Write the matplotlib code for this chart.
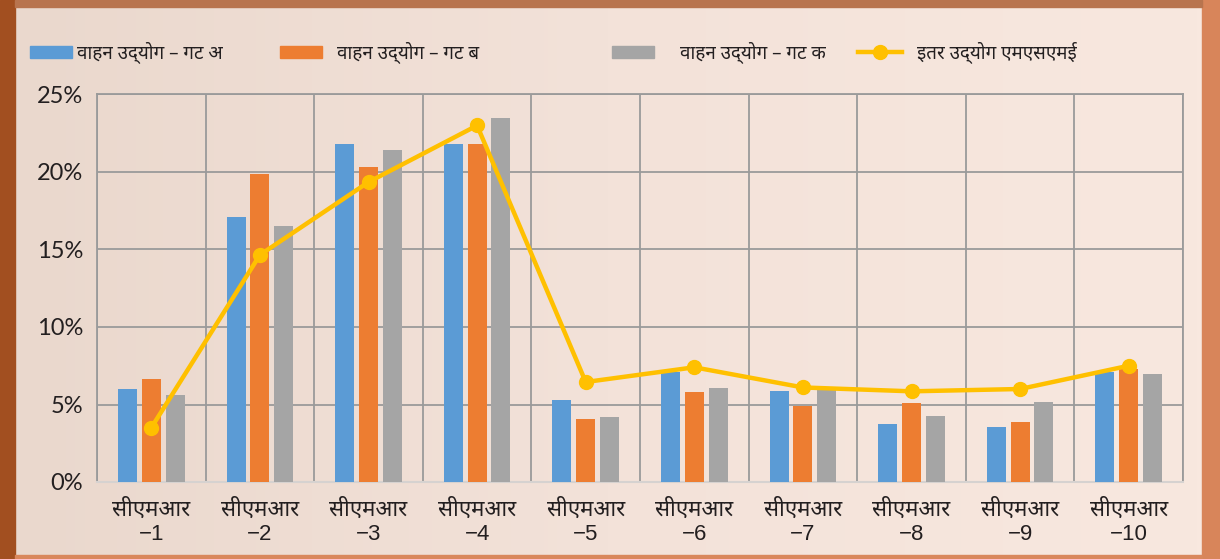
import numpy as np
import matplotlib
matplotlib.use("Agg")
import matplotlib.pyplot as plt
from matplotlib.patches import Rectangle
from matplotlib.lines import Line2D
from matplotlib.colors import LinearSegmentedColormap

categories = ["सीएमआर\n−1", "सीएमआर\n−2", "सीएमआर\n−3", "सीएमआर\n−4", "सीएमआर\n−5",
              "सीएमआर\n−6", "सीएमआर\n−7", "सीएमआर\n−8", "सीएमआर\n−9", "सीएमआर\n−10"]
group_a = [6.0, 17.1, 21.8, 21.8, 5.3, 7.1, 5.9, 3.75, 3.55, 7.1]
group_b = [6.65, 19.9, 20.3, 21.8, 4.05, 5.8, 4.9, 5.1, 3.9, 7.3]
group_c = [5.6, 16.5, 21.4, 23.5, 4.2, 6.05, 5.95, 4.25, 5.15, 7.0]
other_msme = [3.5, 14.65, 19.35, 23.0, 6.45, 7.4, 6.1, 5.85, 6.0, 7.5]
series_names = ["वाहन उद्योग – गट अ", "वाहन उद्योग – गट ब", "वाहन उद्योग – गट क", "इतर उद्योग एमएसएमई"]
yticks = [0, 5, 10, 15, 20, 25]

colors = ["#5b9bd5", "#ed7d31", "#a5a5a5", "#ffc000"]
deva = ["Noto Sans Devanagari", "Hind", "Mukta", "DejaVu Sans"]
plt.rcParams["font.family"] = deva

W, H = 1220, 559
fig = plt.figure(figsize=(W / 100, H / 100), dpi=100)
fig.patch.set_facecolor("#c8784c")

# background in pixel coordinates
bg = fig.add_axes([0, 0, 1, 1], zorder=-10)
bg.set_xlim(0, W)
bg.set_ylim(H, 0)
bg.axis("off")
bg.add_patch(Rectangle((0, 0), 15, H, color="#a24f20"))
bg.add_patch(Rectangle((1202, 0), 18, H, color="#d8855a"))
bg.add_patch(Rectangle((15, 0), 1187, 7, color="#b8744e"))
bg.add_patch(Rectangle((15, 555), 1187, 4, color="#d9875c"))
grad = np.linspace(0, 1, 256).reshape(1, -1)
cmap = LinearSegmentedColormap.from_list("panel", ["#ead8cd", "#f3e2d9", "#f8e8df"])
bg.imshow(grad, extent=(15, 1202, 555, 7), aspect="auto", cmap=cmap)

ax = fig.add_axes([97 / W, 1 - 482 / H, (1183 - 97) / W, (482 - 94.5) / H])
ax.patch.set_alpha(0)

x = np.arange(len(categories))
bw = 0.175
off = 0.22
ax.bar(x - off, group_a, bw, color=colors[0], zorder=3)
ax.bar(x, group_b, bw, color=colors[1], zorder=3)
ax.bar(x + off, group_c, bw, color=colors[2], zorder=3)
ax.plot(x, other_msme, color=colors[3], lw=3.2, marker="o", markersize=10, zorder=4)

ax.set_xlim(-0.5, len(categories) - 0.5)
ax.set_ylim(0, 25)
ax.set_yticks(yticks)
ax.set_yticklabels([f"{v}%" for v in yticks], family=["Lato", "DejaVu Sans"], fontsize=17, color="#231f20")
ax.set_xticks(x)
ax.set_xticklabels(categories, fontsize=16, color="#231f20", linespacing=1.2,
                   family=["Liberation Sans", "Noto Sans Devanagari", "DejaVu Sans"])
ax.set_xticks(np.arange(len(categories) + 1) - 0.5, minor=True)
ax.tick_params(axis="both", which="both", length=0)
ax.tick_params(axis="x", pad=12)
ax.tick_params(axis="y", pad=10)
ax.grid(axis="y", color="#9a9a9a", lw=1.3, zorder=0)
ax.grid(axis="x", which="minor", color="#9a9a9a", lw=1.3, zorder=0)
for s in ["left", "right", "top"]:
    ax.spines[s].set_color("#9a9a9a")
    ax.spines[s].set_linewidth(1.3)
ax.spines["bottom"].set_color("#d6d2d0")
ax.spines["bottom"].set_linewidth(1.5)

# legend laid out by hand in pixel coordinates, as in the source
ly = 52
swatch_x = [30, 280, 612]
text_x = [77, 337, 680, 917]
for i in range(3):
    bg.add_patch(Rectangle((swatch_x[i], ly - 6), 42, 12, color=colors[i]))
bg.add_line(Line2D([858, 902], [ly, ly], color=colors[3], lw=3.2))
bg.plot([880], [ly], "o", color=colors[3], markersize=10)
for i in range(4):
    bg.text(text_x[i], ly, series_names[i], fontsize=13.5, color="#231f20", va="center", ha="left")

fig.savefig("out.png", dpi=100, facecolor=fig.get_facecolor())
